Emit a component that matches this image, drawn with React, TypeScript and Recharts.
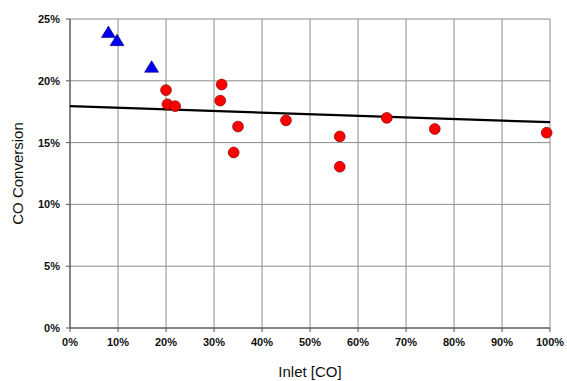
import {
  CartesianGrid,
  Scatter,
  ScatterChart,
  XAxis,
  YAxis
} from "recharts";

// Inlet [CO] (%) vs CO conversion (%)
const triangleInlet = [8.0, 9.8, 17.0];
const triangleConv = [23.9, 23.25, 21.1];

const circleInlet = [20.0, 20.3, 21.9, 31.6, 31.3, 35.0, 34.1, 45.0, 56.2, 56.2, 66.0, 76.0, 99.3];
const circleConv = [19.25, 18.1, 17.95, 19.7, 18.4, 16.3, 14.2, 16.8, 15.5, 13.05, 17.0, 16.1, 15.8];

const trendInlet = [0, 100];
const trendConv = [17.95, 16.65];

const xTicks = [0, 10, 20, 30, 40, 50, 60, 70, 80, 90, 100];
const yTicks = [0, 5, 10, 15, 20, 25];

const zip = (xs: number[], ys: number[]) => xs.map((x, i) => ({ x, y: ys[i] }));

const triangles = zip(triangleInlet, triangleConv);
const circles = zip(circleInlet, circleConv);
const trend = zip(trendInlet, trendConv);

const tickStyle = {
  fill: "#111",
  fontSize: 11,
  fontWeight: 700,
  fontFamily: "Liberation Sans, Arial, sans-serif"
};

const labelStyle = {
  fill: "#111",
  fontSize: 15,
  fontFamily: "Liberation Sans, Arial, sans-serif"
};

const Triangle = (props: any) => {
  const { cx, cy } = props;
  if (cx == null || cy == null) return null;
  return (
    <path
      d={`M${cx},${cy - 6.5} L${cx + 7},${cy + 5} L${cx - 7},${cy + 5} Z`}
      fill="#0000ee"
      stroke="#000080"
      strokeWidth={0.6}
    />
  );
};

const Dot = (props: any) => {
  const { cx, cy } = props;
  if (cx == null || cy == null) return null;
  return <circle cx={cx} cy={cy} r={5.4} fill="#ff0000" stroke="#800000" strokeWidth={0.7} />;
};

export default function App() {
  return (
    <div style={{ position: "absolute", left: 0, top: 0, width: 567, height: 381, background: "#fff" }}>
      <ScatterChart
        width={567}
        height={381}
        margin={{ top: 19, right: 17, left: 22, bottom: 22 }}
        style={{ fontFamily: "Liberation Sans, Arial, sans-serif" }}
      >
        <CartesianGrid stroke="#8c8c8c" strokeWidth={1} />
        <XAxis
          type="number"
          dataKey="x"
          domain={[0, 100]}
          ticks={xTicks}
          tickFormatter={(v) => `${v}%`}
          tick={tickStyle}
          tickLine={{ stroke: "#555" }}
          tickSize={4}
          tickMargin={6}
          axisLine={{ stroke: "#444" }}
          height={31}
          label={{
            value: "Inlet [CO]",
            position: "insideBottom",
            offset: -18,
            style: labelStyle
          }}
        />
        <YAxis
          type="number"
          dataKey="y"
          domain={[0, 25]}
          ticks={yTicks}
          tickFormatter={(v) => `${v}%`}
          tick={tickStyle}
          tickLine={{ stroke: "#555" }}
          tickSize={4}
          tickMargin={6}
          axisLine={{ stroke: "#444" }}
          width={48}
          label={{
            value: "CO Conversion",
            angle: -90,
            position: "insideLeft",
            offset: -4,
            style: { ...labelStyle, textAnchor: "middle" }
          }}
        />
        <Scatter
          data={trend}
          line={{ stroke: "#000", strokeWidth: 2.2 }}
          shape={() => null}
          isAnimationActive={false}
        />
        <Scatter data={triangles} shape={<Triangle />} isAnimationActive={false} />
        <Scatter data={circles} shape={<Dot />} isAnimationActive={false} />
      </ScatterChart>
    </div>
  );
}
